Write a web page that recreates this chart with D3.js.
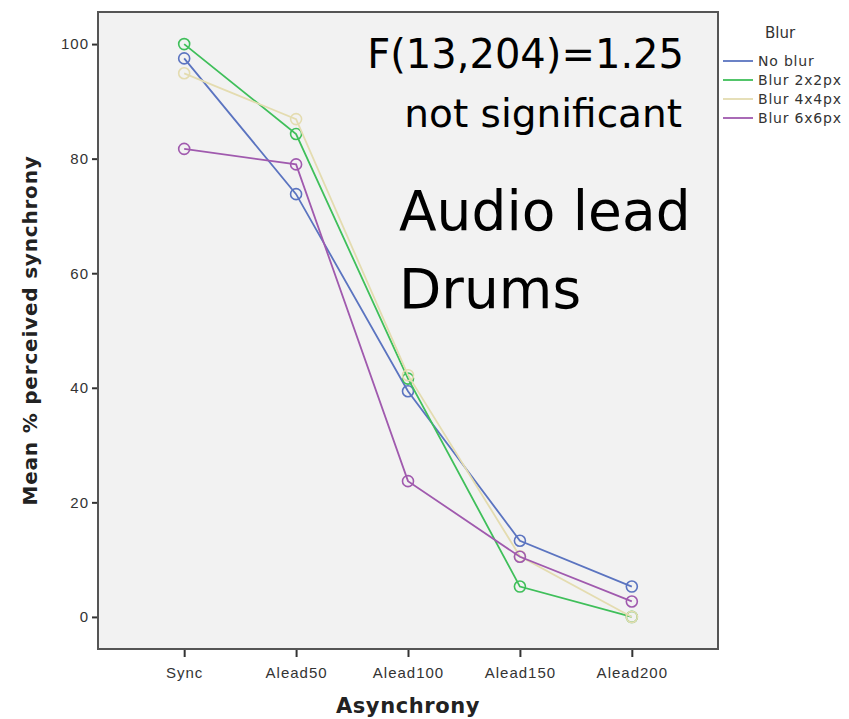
<!DOCTYPE html>
<html>
<head>
<meta charset="utf-8">
<script src="https://cdn.jsdelivr.net/npm/d3@7"></script>
<style>
  body { margin: 0; background: #fff; }
  svg { font-family: "DejaVu Sans", Verdana, sans-serif; }
</style>
</head>
<body>
<script>
const categories = ["Sync", "Alead50", "Alead100", "Alead150", "Alead200"];
const seriesNames = ["No blur", "Blur 2x2px", "Blur 4x4px", "Blur 6x6px"];
const noBlur = [97.5, 73.8, 39.4, 13.3, 5.3];
const blur2 = [100, 84.3, 41.6, 5.3, 0];
const blur4 = [94.9, 86.9, 42.2, 10.6, 0];
const blur6 = [81.7, 79.0, 23.7, 10.5, 2.7];
const yTicks = [0, 20, 40, 60, 80, 100];
const colors = ["#5b74c0", "#3fbf5a", "#e4dcb0", "#a05aae"];

const W = 849, H = 719;
const margin = { top: 12, right: 131, bottom: 70, left: 98 };
const width = W - margin.left - margin.right;
const height = H - margin.top - margin.bottom;

const svg = d3.select("body").append("svg")
  .attr("width", W)
  .attr("height", H);

const g = svg.append("g")
  .attr("transform", `translate(${margin.left},${margin.top})`);

const x = d3.scalePoint()
  .domain(categories)
  .range([0, width])
  .padding(0.77);

const y = d3.scaleLinear()
  .domain([-5.6, 105.6])
  .range([height, 0]);

// plot background
g.append("rect")
  .attr("width", width)
  .attr("height", height)
  .attr("fill", "#f2f2f2");

// axes
const yAxis = g.append("g")
  .call(d3.axisLeft(y).tickValues(yTicks).tickSize(6).tickPadding(3).tickSizeOuter(0));
const xAxis = g.append("g")
  .attr("transform", `translate(0,${height})`)
  .call(d3.axisBottom(x).tickSize(8).tickPadding(10).tickSizeOuter(0));

[xAxis, yAxis].forEach(a => {
  a.select(".domain").remove();
  a.selectAll(".tick line").attr("stroke", "#333").attr("stroke-width", 2);
  a.selectAll(".tick text")
    .attr("fill", "#333")
    .style("font-size", "15px")
    .style("letter-spacing", "1px");
});

// frame
g.append("rect")
  .attr("width", width)
  .attr("height", height)
  .attr("fill", "none")
  .attr("stroke", "#555")
  .attr("stroke-width", 2);

// lines and markers
const data = [noBlur, blur2, blur4, blur6];
const line = d3.line()
  .x((d, i) => x(categories[i]))
  .y(d => y(d));

data.forEach((values, s) => {
  g.append("path")
    .datum(values)
    .attr("d", line)
    .attr("fill", "none")
    .attr("stroke", colors[s])
    .attr("stroke-width", 1.8);
  g.selectAll(".pt" + s)
    .data(values)
    .enter().append("circle")
    .attr("cx", (d, i) => x(categories[i]))
    .attr("cy", d => y(d))
    .attr("r", 5.5)
    .attr("fill", "none")
    .attr("stroke", colors[s])
    .attr("stroke-width", 1.6);
});

// annotations
const ann = g.append("g").attr("fill", "#000");
ann.append("text")
  .attr("x", 586).attr("y", 56)
  .attr("text-anchor", "end")
  .style("font-size", "40px")
  .text("F(13,204)=1.25");
ann.append("text")
  .attr("x", 584).attr("y", 115)
  .attr("text-anchor", "end")
  .style("font-size", "39px")
  .text("not significant");
ann.append("text")
  .attr("x", 301).attr("y", 218)
  .style("font-size", "55px")
  .text("Audio lead");
ann.append("text")
  .attr("x", 301).attr("y", 296)
  .style("font-size", "55px")
  .text("Drums");

// axis titles
svg.append("text")
  .attr("x", margin.left + x("Alead100"))
  .attr("y", 713)
  .attr("text-anchor", "middle")
  .attr("fill", "#222")
  .style("font-size", "21px")
  .style("font-weight", "bold")
  .style("letter-spacing", "0.6px")
  .text("Asynchrony");

svg.append("text")
  .attr("transform", `translate(37,${margin.top + height / 2}) rotate(-90)`)
  .attr("text-anchor", "middle")
  .attr("fill", "#222")
  .style("font-size", "20px")
  .style("font-weight", "bold")
  .style("letter-spacing", "0.8px")
  .text("Mean % perceived synchrony");

// legend
const legend = svg.append("g").attr("transform", "translate(723,0)");
legend.append("text")
  .attr("x", 57).attr("y", 38)
  .attr("text-anchor", "middle")
  .attr("fill", "#333")
  .style("font-size", "15px")
  .text("Blur");
const items = legend.selectAll(".item")
  .data(seriesNames)
  .enter().append("g")
  .attr("transform", (d, i) => `translate(0,${61 + i * 19})`);
items.append("line")
  .attr("x1", 0).attr("x2", 30)
  .attr("stroke", (d, i) => colors[i])
  .attr("stroke-width", 1.8);
items.append("text")
  .attr("x", 35).attr("y", 5)
  .attr("fill", "#333")
  .style("font-size", "14px")
  .style("letter-spacing", "0.8px")
  .text(d => d);
</script>
</body>
</html>
